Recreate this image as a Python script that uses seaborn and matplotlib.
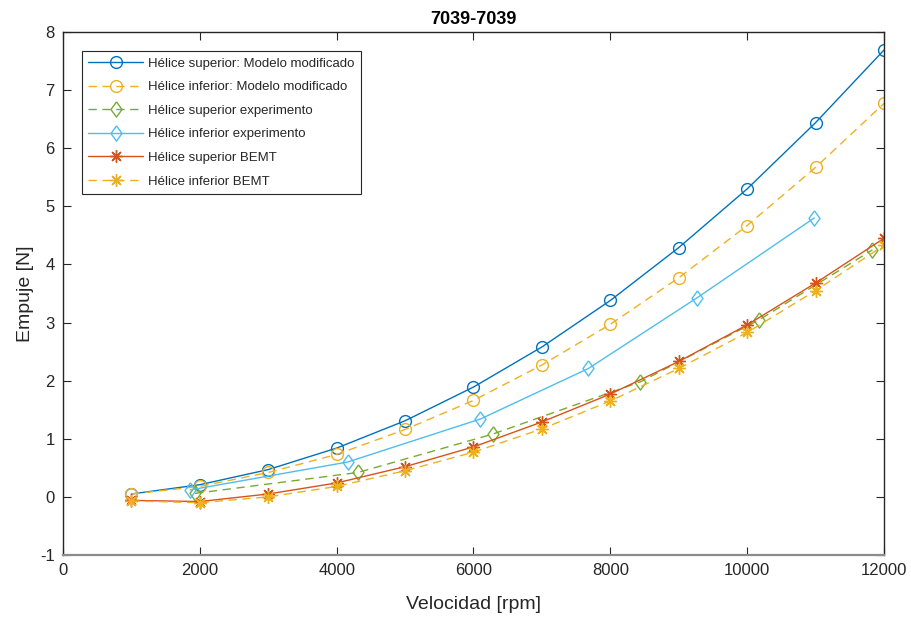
import matplotlib
matplotlib.use("Agg")
import matplotlib.pyplot as plt
import seaborn as sns
import pandas as pd

# Rotor speed grid used by both models
rpm_model = [1000, 2000, 3000, 4000, 5000, 6000, 7000, 8000, 9000, 10000, 11000, 12000]

# Modified model thrust [N]
sup_model = [0.05, 0.21, 0.47, 0.84, 1.31, 1.89, 2.58, 3.38, 4.29, 5.30, 6.44, 7.69]
inf_model = [0.05, 0.18, 0.42, 0.73, 1.16, 1.66, 2.27, 2.97, 3.77, 4.67, 5.67, 6.77]

# Experimental measurements
sup_exp_rpm = [1930, 4310, 6280, 8440, 10180, 11830]
sup_exp = [0.06, 0.42, 1.08, 1.98, 3.05, 4.25]
inf_exp_rpm = [1860, 4160, 6100, 7680, 9260, 10980]
inf_exp = [0.12, 0.60, 1.34, 2.21, 3.42, 4.80]

# BEMT predictions
sup_bemt = [-0.06, -0.08, 0.05, 0.24, 0.52, 0.86, 1.29, 1.77, 2.33, 2.96, 3.68, 4.45]
inf_bemt = [-0.07, -0.10, 0.00, 0.18, 0.45, 0.77, 1.17, 1.65, 2.21, 2.83, 3.55, 4.33]

labels = [
    "Hélice superior: Modelo modificado",
    "Hélice inferior: Modelo modificado",
    "Hélice superior experimento",
    "Hélice inferior experimento",
    "Hélice superior BEMT",
    "Hélice inferior BEMT",
]

sns.set_style("ticks")
plt.rcParams["font.family"] = ["Liberation Sans", "DejaVu Sans"]
plt.rcParams["axes.unicode_minus"] = False

BLUE = "#0072BD"
YELLOW = "#EDB120"
GREEN = "#77AC30"
CYAN = "#4DBEEE"
RED = "#D95319"
AX = "#262626"

fig = plt.figure(figsize=(9.12, 6.17), dpi=100)
ax = fig.add_axes([63 / 912, 1 - 555 / 617, 821 / 912, 523 / 617])

# slightly tall diamond and an eight-spoke asterisk
diamond = [(0, 1), (0.72, 0), (0, -1), (-0.72, 0), (0, 1)]
asterisk = (8, 2, 0)
series = [
    (rpm_model, sup_model, BLUE, "-", "o", 8.5),
    (rpm_model, inf_model, YELLOW, "--", "o", 8.5),
    (sup_exp_rpm, sup_exp, GREEN, "--", diamond, 11),
    (inf_exp_rpm, inf_exp, CYAN, "-", diamond, 11),
    (rpm_model, sup_bemt, RED, "-", asterisk, 9),
    (rpm_model, inf_bemt, YELLOW, "--", asterisk, 9),
]

for (xs, ys, col, ls, mk, ms), lab in zip(series, labels):
    df = pd.DataFrame({"rpm": xs, "thrust": ys})
    sns.lineplot(
        data=df, x="rpm", y="thrust", ax=ax, color=col, linestyle=ls,
        linewidth=1.0, marker=mk, markersize=ms, markerfacecolor="none",
        markeredgecolor=col, markeredgewidth=1.0, label=lab,
    )

for line in ax.get_lines():
    if line.get_linestyle() == "--":
        line.set_dashes((6, 4))

ax.set_xlim(0, 12000)
ax.set_ylim(-1, 8)
ax.set_xticks(range(0, 12001, 2000))
ax.set_yticks(range(-1, 9))

for side in ["top", "right", "left", "bottom"]:
    ax.spines[side].set_visible(True)
    ax.spines[side].set_color(AX)
    ax.spines[side].set_linewidth(1.0)
ax.spines["bottom"].set_color("#8c8c8c")
ax.spines["bottom"].set_linewidth(1.6)

ax.tick_params(direction="in", length=6, width=0.8, colors=AX, labelsize=12,
               top=True, right=True, pad=6)

ax.set_xlabel("Velocidad [rpm]", fontsize=14, color=AX, labelpad=13)
ax.set_ylabel("Empuje [N]", fontsize=14, color=AX, labelpad=4)
ax.set_title("7039-7039", fontsize=13, fontweight="bold", color="black", pad=6)

leg = ax.legend(
    loc="upper left", bbox_to_anchor=(0.023, 0.964), frameon=True,
    fancybox=False, edgecolor=AX, framealpha=1, fontsize=9.5,
    handlelength=4.1, handletextpad=0.4, labelspacing=0.86,
    borderpad=0.5, borderaxespad=0,
)
leg.get_frame().set_linewidth(0.8)

fig.savefig("out.png", dpi=100)
